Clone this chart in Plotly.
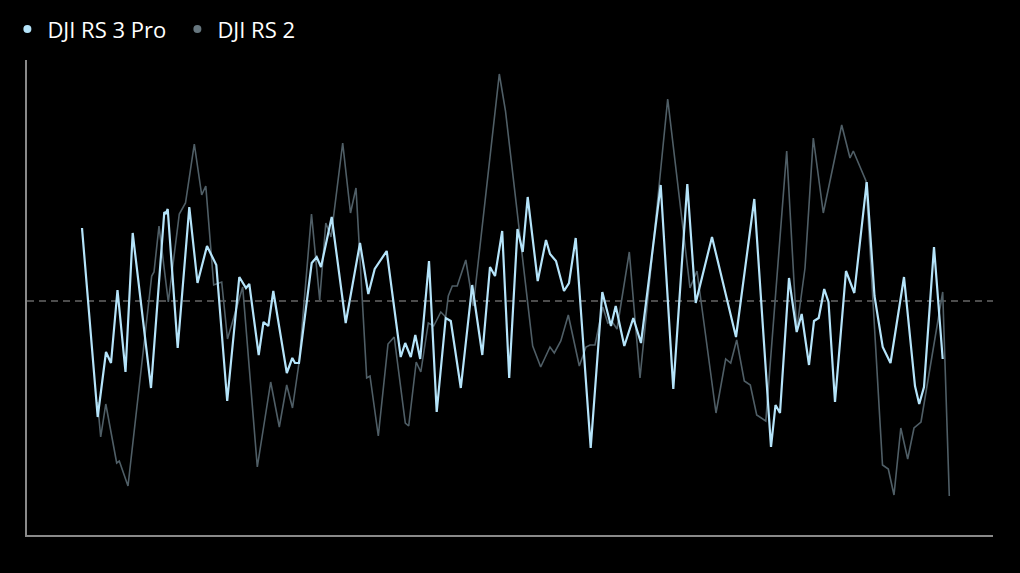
import plotly.graph_objects as go

# DJI RS 3 Pro (time in s, deviation)
rs3_t = [0.00, 1.57, 2.40, 2.90, 3.55, 4.35, 5.07, 6.90, 8.23, 8.37, 8.57, 9.57, 10.73, 11.55, 12.50, 13.43,
         14.52, 15.73, 16.40, 16.73, 17.67, 18.15, 18.63, 19.13, 20.48, 21.03, 21.30, 21.70, 22.97, 23.47, 23.90,
         24.97, 26.37, 27.80, 28.63, 29.27, 30.47, 31.87, 32.32, 32.88, 33.33, 33.82, 34.70, 35.47, 36.37, 36.88,
         37.88, 39.02, 40.03, 40.80, 41.30, 42.02, 42.72, 43.55, 44.07, 44.57, 45.57, 46.40, 46.80, 47.40, 48.20,
         48.70, 49.37, 50.87, 52.03, 52.90, 53.37, 54.23, 55.13, 55.90, 57.87, 59.13, 60.53, 61.37, 63.00, 65.40,
         67.23, 68.90, 69.35, 69.80, 70.70, 71.47, 71.97, 72.70, 73.20, 73.67, 74.22, 74.65, 75.30, 76.40, 77.23,
         78.47, 79.25, 80.07, 80.85, 82.20, 83.30, 83.72, 84.20, 85.20, 86.07]
rs3_v = [0.73, -1.16, -0.51, -0.62, 0.11, -0.71, 0.68, -0.87, 0.89, 0.87, 0.92, -0.47, 0.94, 0.18, 0.55, 0.36,
         -1.00, 0.24, 0.13, 0.17, -0.54, -0.21, -0.25, 0.10, -0.72, -0.57, -0.62, -0.62, 0.38, 0.44, 0.34,
         0.84, -0.22, 0.58, 0.07, 0.32, 0.50, -0.56, -0.42, -0.56, -0.34, -0.58, 0.40, -1.11, -0.17, -0.20,
         -0.87, 0.16, -0.54, 0.34, 0.25, 0.70, -0.77, 0.72, 0.49, 1.04, 0.20, 0.61, 0.47, 0.40, 0.10,
         0.18, 0.63, -1.47, 0.09, -0.25, -0.05, -0.45, -0.17, -0.42, 1.16, -0.88, 1.17, -0.02, 0.64, -0.36,
         1.02, -1.46, -1.04, -1.12, 0.23, -0.31, -0.13, -0.64, -0.20, -0.17, 0.12, -0.01, -1.01, 0.30, 0.08,
         1.19, 0.05, -0.46, -0.62, 0.24, -0.85, -1.03, -0.86, 0.54, -0.58]

# DJI RS 2
rs2_t = [1.55, 1.87, 2.38, 3.47, 3.73, 4.60, 6.97, 7.20, 7.70, 8.63, 9.73, 10.35, 11.23, 11.97, 12.38, 13.17,
         13.97, 14.55, 16.07, 17.53, 18.87, 19.73, 20.47, 21.05, 21.70, 22.95, 23.77, 24.38, 24.90, 26.07, 26.85,
         27.40, 28.47, 28.80, 29.63, 30.60, 31.22, 32.33, 32.67, 33.42, 33.88, 34.63, 35.17, 35.88, 36.37, 36.63,
         37.03, 37.52, 38.38, 39.13, 41.73, 42.35, 45.07, 45.87, 46.80, 47.23, 47.88, 48.63, 49.73, 50.40, 50.80,
         51.30, 52.08, 52.58, 52.97, 53.50, 54.73, 55.80, 58.57, 60.80, 61.50, 63.40, 64.37, 64.87, 65.47, 66.23,
         66.83, 67.47, 68.38, 70.47, 71.47, 72.30, 73.13, 74.13, 75.97, 76.80, 77.13, 78.40, 80.05, 80.63, 81.20,
         81.88, 82.57, 83.20, 83.90, 86.07, 86.73]
rs2_v = [-1.01, -1.36, -1.03, -1.62, -1.60, -1.85, 0.25, 0.29, 0.75, -0.01, 0.87, 0.98, 1.57, 1.06, 1.15, 0.16,
         0.19, -0.38, 0.14, -1.66, -0.81, -1.26, -0.84, -1.07, -0.62, 0.87, 0.01, 0.78, 0.64, 1.58, 0.88,
         1.13, -0.77, -0.75, -1.35, -0.43, -0.36, -1.22, -1.25, -0.61, -0.71, -0.22, -0.25, -0.11, -0.16, 0.05,
         0.15, 0.15, 0.41, -0.05, 2.27, 1.90, -0.45, -0.66, -0.46, -0.52, -0.40, -0.14, -0.65, -0.46, -0.44,
         -0.44, -0.06, -0.22, -0.20, -0.28, 0.49, -0.77, 2.02, 0.13, 0.30, -1.12, -0.58, -0.62, -0.39, -0.80,
         -0.84, -1.14, -1.20, 1.50, -0.29, 0.33, 1.63, 0.88, 1.76, 1.43, 1.50, 1.20, -1.64, -1.68, -1.94,
         -1.27, -1.58, -1.27, -1.21, 0.09, -1.95]

series_names = ["DJI RS 3 Pro", "DJI RS 2"]
c_rs3 = "#b5e4fa"
c_rs2 = "#4f5e66"
c_rs2_dot = "#66767e"

fig = go.Figure()
fig.add_trace(go.Scatter(x=rs2_t, y=rs2_v, mode="lines", line=dict(color=c_rs2, width=1.6),
                         showlegend=False, hoverinfo="skip"))
fig.add_trace(go.Scatter(x=rs3_t, y=rs3_v, mode="lines", line=dict(color=c_rs3, width=2.2),
                         showlegend=False, hoverinfo="skip"))
fig.add_trace(go.Scatter(x=[None], y=[None], mode="markers", name=series_names[0],
                         marker=dict(color=c_rs3, size=8)))
fig.add_trace(go.Scatter(x=[None], y=[None], mode="markers", name=series_names[1],
                         marker=dict(color=c_rs2_dot, size=8)))

fig.add_shape(type="line", xref="paper", x0=0, x1=1, yref="y", y0=0, y1=0,
              line=dict(color="#9a9a9a", width=1, dash="7px,5px"), layer="below")

fig.update_layout(
    width=1020, height=573,
    paper_bgcolor="#000000", plot_bgcolor="#000000",
    margin=dict(l=27, r=27, t=60, b=38, autoexpand=False),
    font=dict(family="Open Sans", color="#ffffff"),
    showlegend=True,
    legend=dict(orientation="h", x=-0.0203, xanchor="left", y=1.065, yanchor="middle",
                font=dict(size=22, color="#ffffff", weight=500), itemwidth=30,
                entrywidth=125, entrywidthmode="pixels", bgcolor="rgba(0,0,0,0)"),
    xaxis=dict(range=[-5.5, 91.1], showgrid=False, zeroline=False, showticklabels=False, ticks="",
               showline=True, linecolor="#8a8a8a", linewidth=2),
    yaxis=dict(range=[-2.34, 2.41], showgrid=False, zeroline=False, showticklabels=False, ticks="",
               showline=True, linecolor="#8a8a8a", linewidth=2),
)

fig.write_html("out.html", config={"displayModeBar": False},
               post_script="document.body.style.margin='0';document.body.style.background='#000';")
